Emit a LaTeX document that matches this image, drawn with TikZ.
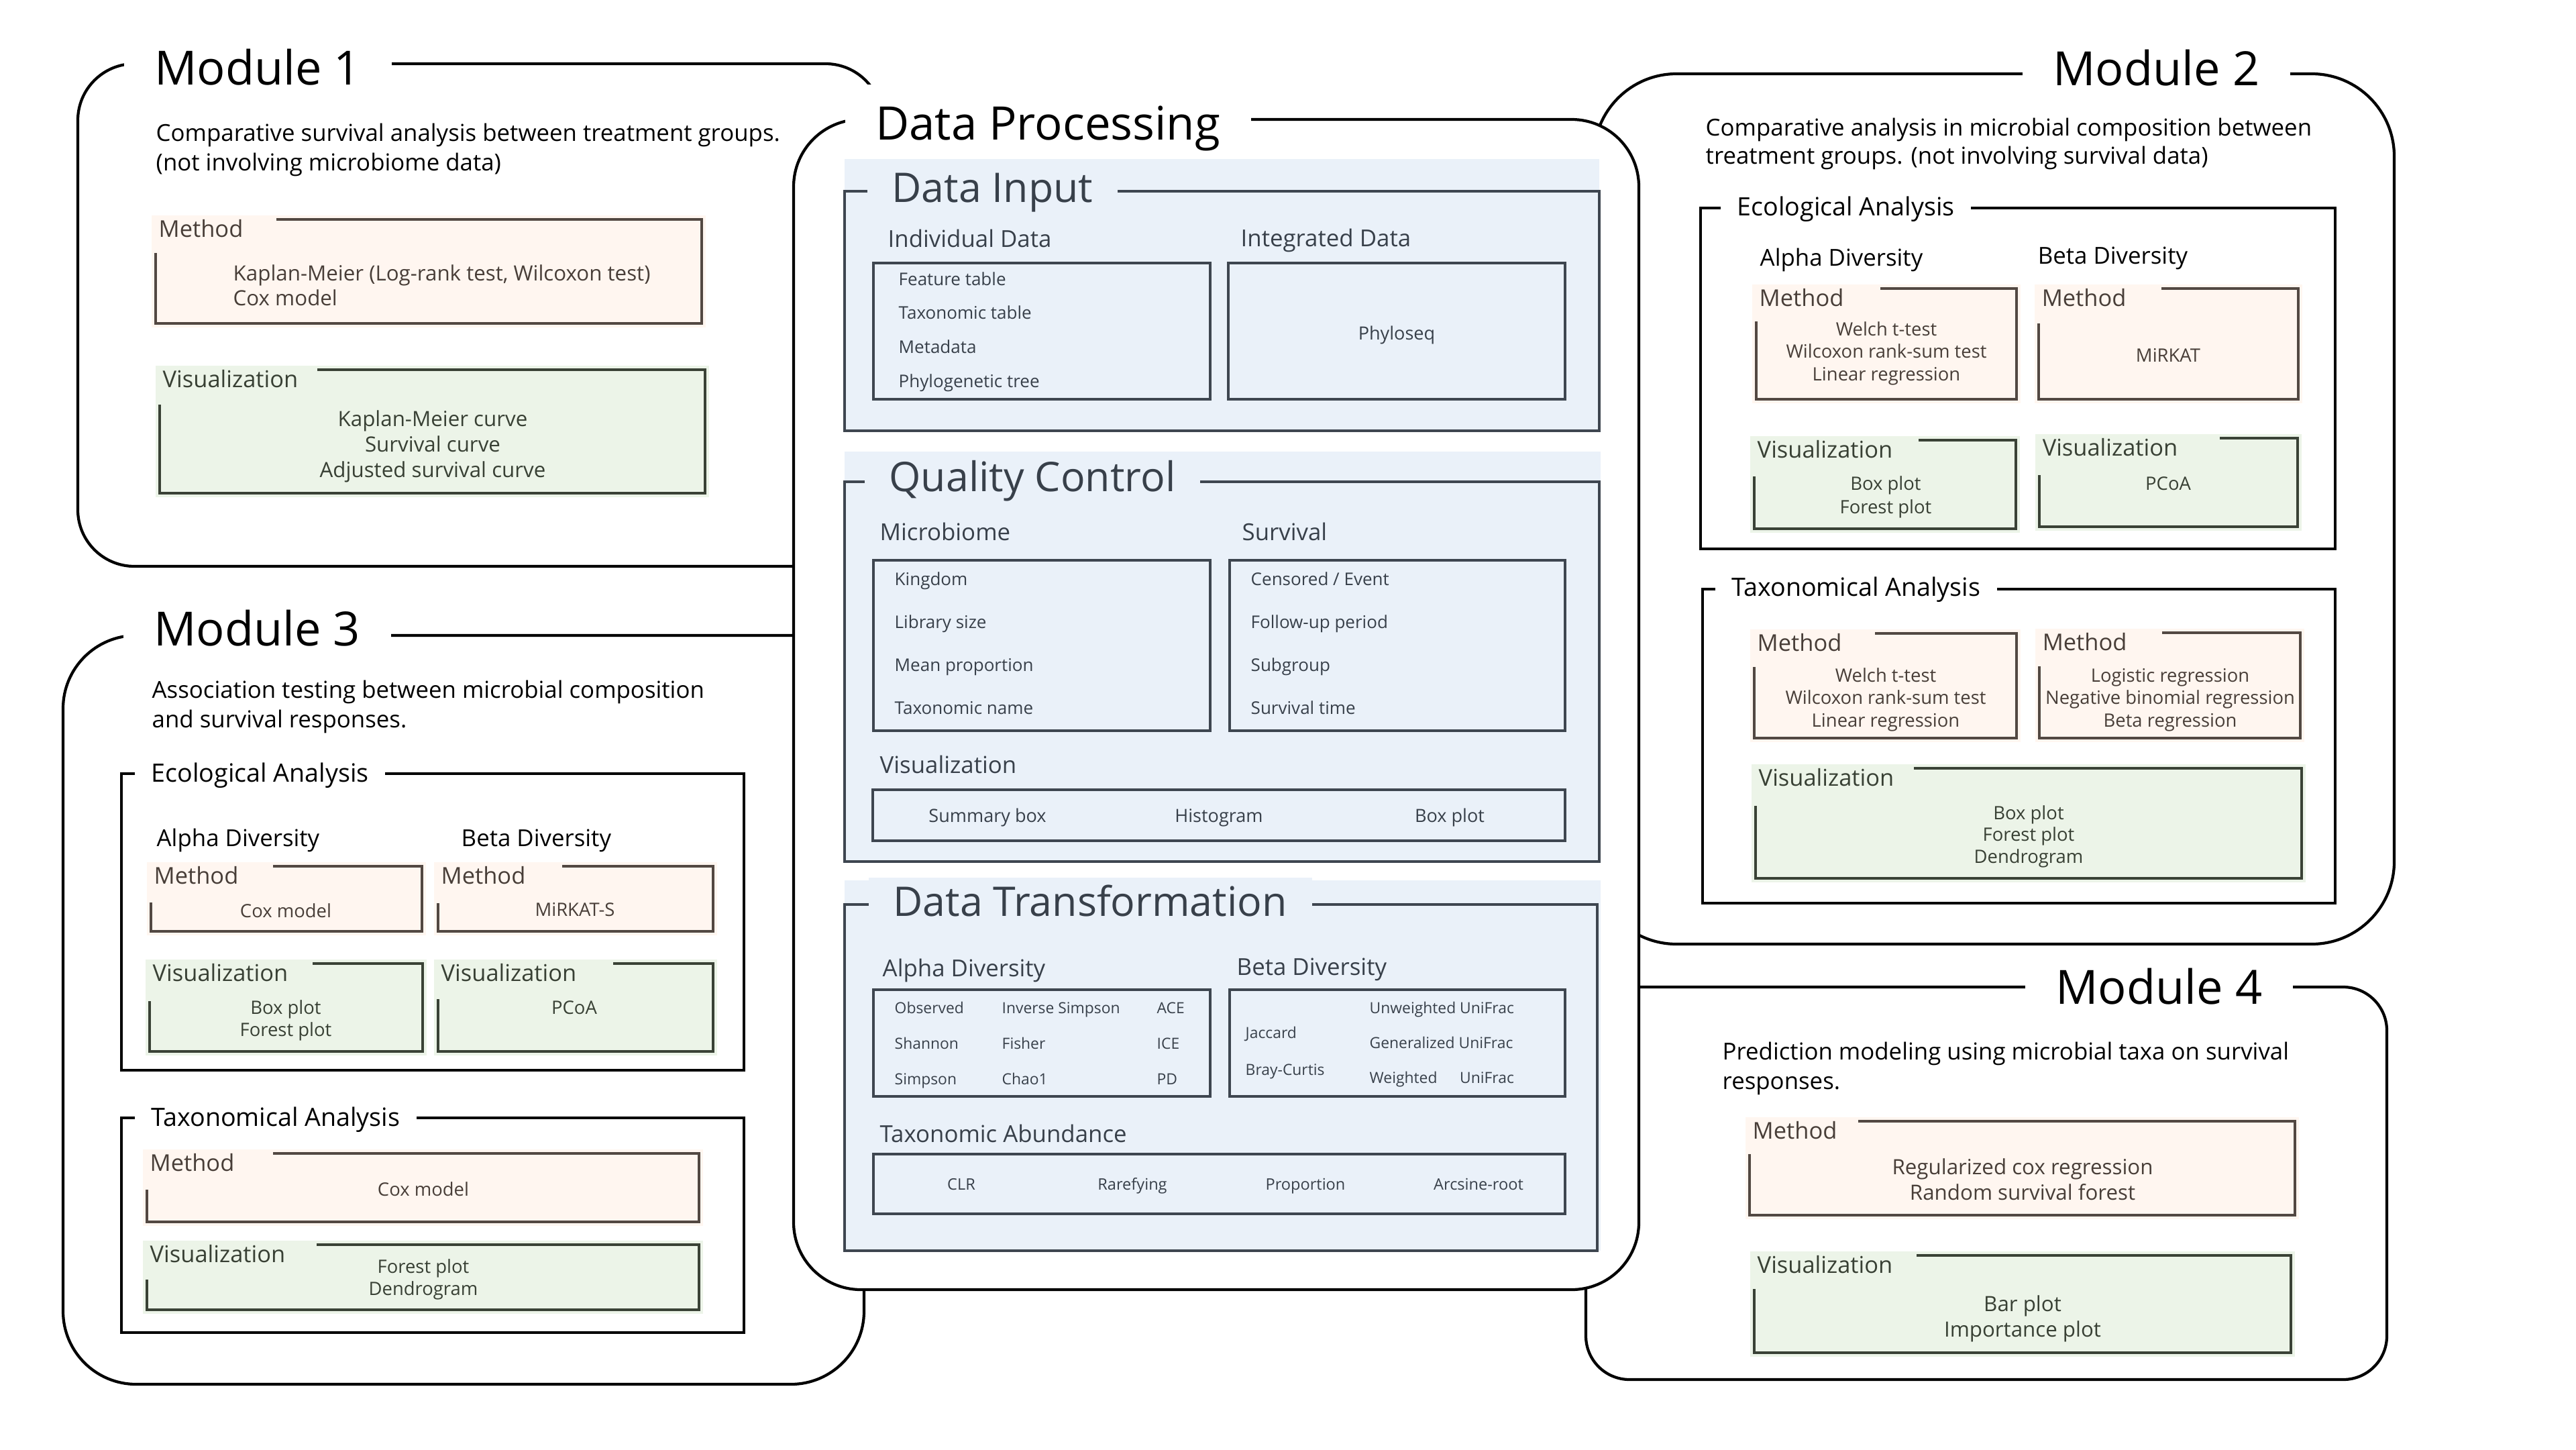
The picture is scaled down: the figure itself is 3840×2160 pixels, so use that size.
\documentclass[tikz,border=0pt]{standalone}
\usepackage{fontspec}
\setmainfont{Open Sans}
\usepackage{xcolor}

\definecolor{methbg}{RGB}{255,246,240}
\definecolor{methln}{RGB}{82,72,66}
\definecolor{methtx}{RGB}{72,62,56}
\definecolor{visbg}{RGB}{236,244,232}
\definecolor{visln}{RGB}{58,66,54}
\definecolor{vistx}{RGB}{56,64,52}
\definecolor{panelbg}{RGB}{234,241,249}
\definecolor{panelln}{RGB}{62,70,80}
\definecolor{paneltx}{RGB}{56,64,74}

% labelled box: kind, top-left, bottom-right, gap end x, left line start y, name, label
\newcommand{\labbox}[9]{%
  \fill[#1bg] (#2-6,#3-6) rectangle (#4+6,#5+6);
  \draw[#1ln, line width=1pt] (#6,#3) -| (#4,#5) -| (#2,#7);
  \node[#1lab] (#8) at (#2+4,#3+26) {#9};}
% lines of text, one node per line
\newcommand{\txtlines}[6]{%
  \foreach \tl [count=\ti from 0] in {#6}
    {\node[#1] (#5\ti) at (#2,#3+\ti*#4) {\tl};}}

\begin{document}
\begin{tikzpicture}[x=0.01cm, y=-0.01cm,
    modbox/.style={draw=black, line width=1.2pt, fill=white},
    modtitle/.style={font=\fontsize{20}{24}\selectfont, fill=white,
                     inner xsep=13pt, inner ysep=9pt, anchor=base west, xshift=-12pt},
    mtxt/.style={font=\fontsize{9.9}{12}\selectfont, anchor=base west, inner sep=0pt},
    secframe/.style={draw=black, line width=1.1pt},
    sectitle/.style={font=\fontsize{10.7}{13}\selectfont, fill=white,
                     inner xsep=7pt, inner ysep=3pt, anchor=base west, xshift=-7pt},
    sechead/.style={font=\fontsize{9.9}{12}\selectfont, anchor=base west, inner sep=0pt},
    methlab/.style={font=\fontsize{9.8}{12}\selectfont, text=methtx, anchor=base west, inner sep=0pt},
    vislab/.style={font=\fontsize{9.8}{12}\selectfont, text=vistx, anchor=base west, inner sep=0pt},
    boxtxt/.style={font=\fontsize{7.8}{9}\selectfont, anchor=base, inner sep=0pt},
    bigtxt/.style={boxtxt, font=\fontsize{8.9}{10}\selectfont},
    dpframe/.style={draw=panelln, line width=1.15pt},
    dptitle/.style={font=\fontsize{17.3}{20}\selectfont, text=paneltx, fill=panelbg,
                    inner xsep=10.5pt, inner ysep=3pt, anchor=base west, xshift=-10pt},
    dphead/.style={font=\fontsize{9.9}{12}\selectfont, text=paneltx, anchor=base west, inner sep=0pt},
    inbox/.style={draw=panelln, line width=0.9pt},
    initem/.style={font=\fontsize{7.4}{9}\selectfont, text=paneltx, anchor=base west, inner sep=0pt},
    dtsize/.style={font=\fontsize{6.5}{8}\selectfont},
    vissize/.style={font=\fontsize{7.7}{9}\selectfont, anchor=base}
]
\useasboundingbox (0,0) rectangle (3840,2160);
\fill[white] (0,0) rectangle (3840,2160);

% Module 1
\draw[modbox, rounded corners=24pt] (116,95) rectangle (1315,844);
\node[modtitle] (m1t) at (226,126) {Module 1};
\txtlines{mtxt}{232}{210}{44.5}{m1d}{Comparative survival analysis between treatment groups., (not involving microbiome data)}
\labbox{meth}{232}{327}{1046}{482}{412}{377}{m1m}{Method}
\txtlines{bigtxt, anchor=base west, text=methtx}{347}{418}{37}{m1mt}{{Kaplan-Meier (Log-rank test, Wilcoxon test)}, Cox model}
\labbox{vis}{238}{551}{1051}{735}{473}{603}{m1v}{Visualization}
\txtlines{bigtxt, text=vistx}{645}{635}{38.4}{m1vt}{Kaplan-Meier curve, Survival curve, Adjusted survival curve}

% Module 3
\draw[modbox, rounded corners=31pt] (94,947) rectangle (1288,2063);
\node[modtitle] (m3t) at (225,962) {Module 3};
\txtlines{mtxt}{226}{1040}{44}{m3d}{Association testing between microbial composition, and survival responses.}
\draw[secframe] (181,1153) rectangle (1109,1595);
\node[sectitle] (m3eco) at (225,1165) {Ecological Analysis};
\node[sechead] (m3a) at (233,1261) {Alpha Diversity};
\node[sechead] (m3b) at (687,1261) {Beta Diversity};
\labbox{meth}{225}{1291}{629}{1388}{407}{1345}{m3am}{Method}
\node[boxtxt, text=methtx] (m3amt) at (426,1367) {Cox model};
\labbox{meth}{653}{1291}{1063}{1388}{838}{1346}{m3bm}{Method}
\node[boxtxt, text=methtx] (m3bmt) at (857,1365) {MiRKAT-S};
\labbox{vis}{223}{1436}{630}{1567}{466}{1492}{m3av}{Visualization}
\txtlines{boxtxt, text=vistx}{426}{1511}{33}{m3avt}{Box plot, Forest plot}
\labbox{vis}{653}{1436}{1063}{1567}{914}{1489}{m3bv}{Visualization}
\node[boxtxt, text=vistx] (m3bvt) at (856,1511) {PCoA};
\draw[secframe] (181,1666) rectangle (1109,1986);
\node[sectitle] (m3tax) at (225,1678) {Taxonomical Analysis};
\labbox{meth}{219}{1719}{1042}{1821}{407}{1773}{m3tm}{Method}
\node[boxtxt, text=methtx] (m3tmt) at (631,1782) {Cox model};
\labbox{vis}{219}{1855}{1042}{1952}{472}{1907}{m3tv}{Visualization}
\txtlines{boxtxt, text=vistx}{631}{1897}{33}{m3tvt}{Forest plot, Dendrogram}

% Module 2
\draw[modbox, rounded corners=35pt] (2376,110) rectangle (3569,1407);
\node[modtitle] (m2t) at (3056,127) {Module 2};
\txtlines{mtxt}{2542}{202}{42.5}{m2d}{Comparative analysis in microbial composition between, treatment groups. (not involving survival data)}
\draw[secframe] (2535,310) rectangle (3481,818);
\node[sectitle] (m2eco) at (2589,321) {Ecological Analysis};
\node[sechead] (m2a) at (2623,396) {Alpha Diversity};
\node[sechead] (m2b) at (3037,393) {Beta Diversity};
\labbox{meth}{2618}{430}{3006}{595}{2803}{479}{m2am}{Method}
\txtlines{boxtxt, text=methtx}{2812}{500}{33.7}{m2amt}{Welch t-test, Wilcoxon rank-sum test, Linear regression}
\labbox{meth}{3039}{430}{3426}{595}{3222}{482}{m2bm}{Method}
\node[boxtxt, text=methtx] (m2bmt) at (3232,539) {MiRKAT};
\labbox{vis}{2615}{656}{3005}{788}{2860}{710}{m2av}{Visualization}
\txtlines{boxtxt, text=vistx}{2811}{730}{35}{m2avt}{Box plot, Forest plot}
\labbox{vis}{3040}{653}{3425}{785}{3309}{708}{m2bv}{Visualization}
\node[boxtxt, text=vistx] (m2bvt) at (3232,730) {PCoA};
\draw[secframe] (2538,878) rectangle (3481,1346);
\node[sectitle] (m2tax) at (2581,888) {Taxonomical Analysis};
\labbox{meth}{2615}{944}{3006}{1100}{2795}{994}{m2tlm}{Method}
\txtlines{boxtxt, text=methtx}{2811}{1016}{33.5}{m2tlmt}{Welch t-test, Wilcoxon rank-sum test, Linear regression}
\labbox{meth}{3040}{943}{3429}{1100}{3223}{993}{m2trm}{Method}
\txtlines{boxtxt, text=methtx}{3235}{1016}{33.5}{m2trmt}{Logistic regression, Negative binomial regression, Beta regression}
\labbox{vis}{2617}{1145}{3431}{1309}{2853}{1201}{m2tv}{Visualization}
\txtlines{boxtxt, text=vistx}{3024}{1221}{32.5}{m2tvt}{Box plot, Forest plot, Dendrogram}

% Module 4
\draw[modbox, rounded corners=18.5pt] (2364,1471) rectangle (3558,2056);
\node[modtitle] (m4t) at (3060,1496) {Module 4};
\txtlines{mtxt}{2567}{1579}{44.4}{m4d}{Prediction modeling using microbial taxa on survival, responses.}
\labbox{meth}{2608}{1671}{3421}{1811}{2770}{1720}{m4m}{Method}
\txtlines{bigtxt, text=methtx}{3015}{1750}{38.6}{m4mt}{Regularized cox regression, Random survival forest}
\labbox{vis}{2615}{1871}{3415}{2016}{2857}{1921}{m4v}{Visualization}
\txtlines{bigtxt, text=vistx}{3015}{1954}{38}{m4vt}{Bar plot, Importance plot}

% Data Processing (on top)
\draw[modbox, rounded corners=28.5pt] (1183,178) rectangle (2443,1922);
\node[modtitle, font=\fontsize{19.6}{24}\selectfont] (dpt) at (1301,208) {Data Processing};

% Data Input
\fill[panelbg] (1259,237) rectangle (2384,642);
\draw[dpframe] (1259,285) rectangle (2384,642);
\node[dptitle] (dit) at (1327,301) {Data Input};
\node[dphead] (dih1) at (1323,368) {Individual Data};
\node[dphead] (dih2) at (1849,367) {Integrated Data};
\draw[inbox] (1302,392) rectangle (1804,595);
\txtlines{initem}{1339}{425}{50.7}{dii}{Feature table, Taxonomic table, Metadata, Phylogenetic tree}
\draw[inbox] (1831,392) rectangle (2333,595);
\node[initem, vissize] (dips) at (2082,506) {Phyloseq};

% Quality Control
\fill[panelbg] (1259,673) rectangle (2386,1284);
\draw[dpframe] (1259,718) rectangle (2384,1284);
\node[dptitle] (qct) at (1323,732) {Quality Control};
\node[dphead] (qch1) at (1311,805) {Microbiome};
\node[dphead] (qch2) at (1851,805) {Survival};
\draw[inbox] (1302,835) rectangle (1804,1089);
\txtlines{initem}{1333}{872}{64}{qcm}{Kingdom, Library size, Mean proportion, Taxonomic name}
\draw[inbox] (1833,835) rectangle (2333,1089);
\txtlines{initem}{1864}{872}{64}{qcs}{Censored / Event, Follow-up period, Subgroup, Survival time}
\node[dphead] (qch3) at (1311,1152) {Visualization};
\draw[inbox] (1301,1177) rectangle (2333,1253);
\foreach \x/\t [count=\i] in {1472/Summary box, 1817/Histogram, 2161/Box plot}
  \node[initem, vissize] (qcv\i) at (\x,1225) {\t};

% Data Transformation
\fill[panelbg] (1259,1312) rectangle (2386,1864);
\draw[dpframe] (1259,1348) rectangle (2381,1864);
\node[dptitle] (dtt) at (1329,1365) {Data Transformation};
\node[dphead] (dth1) at (1315,1455) {Alpha Diversity};
\node[dphead] (dth2) at (1843,1453) {Beta Diversity};
\draw[inbox] (1302,1475) rectangle (1804,1634);
\txtlines{initem, dtsize}{1333}{1510}{53}{dta}{Observed, Shannon, Simpson}
\txtlines{initem, dtsize}{1493}{1510}{53}{dtb}{Inverse Simpson, Fisher, Chao1}
\txtlines{initem, dtsize}{1724}{1510}{53}{dtc}{ACE, ICE, PD}
\draw[inbox] (1833,1475) rectangle (2333,1634);
\txtlines{initem, dtsize}{1856}{1547}{55}{dtd}{Jaccard, Bray-Curtis}
\txtlines{initem, dtsize}{2041}{1510}{52}{dte}{Unweighted UniFrac, Generalized UniFrac, \rlap{Weighted}\phantom{Unweighted }UniFrac}
\node[dphead] (dth3) at (1311,1702) {Taxonomic Abundance};
\draw[inbox] (1302,1720) rectangle (2333,1809);
\foreach \x/\t [count=\i] in {1433/CLR, 1688/Rarefying, 1946/Proportion, 2204/Arcsine-root}
  \node[initem, vissize, font=\fontsize{6.7}{8}\selectfont] (dtf\i) at (\x,1773) {\t};
\end{tikzpicture}
\end{document}
